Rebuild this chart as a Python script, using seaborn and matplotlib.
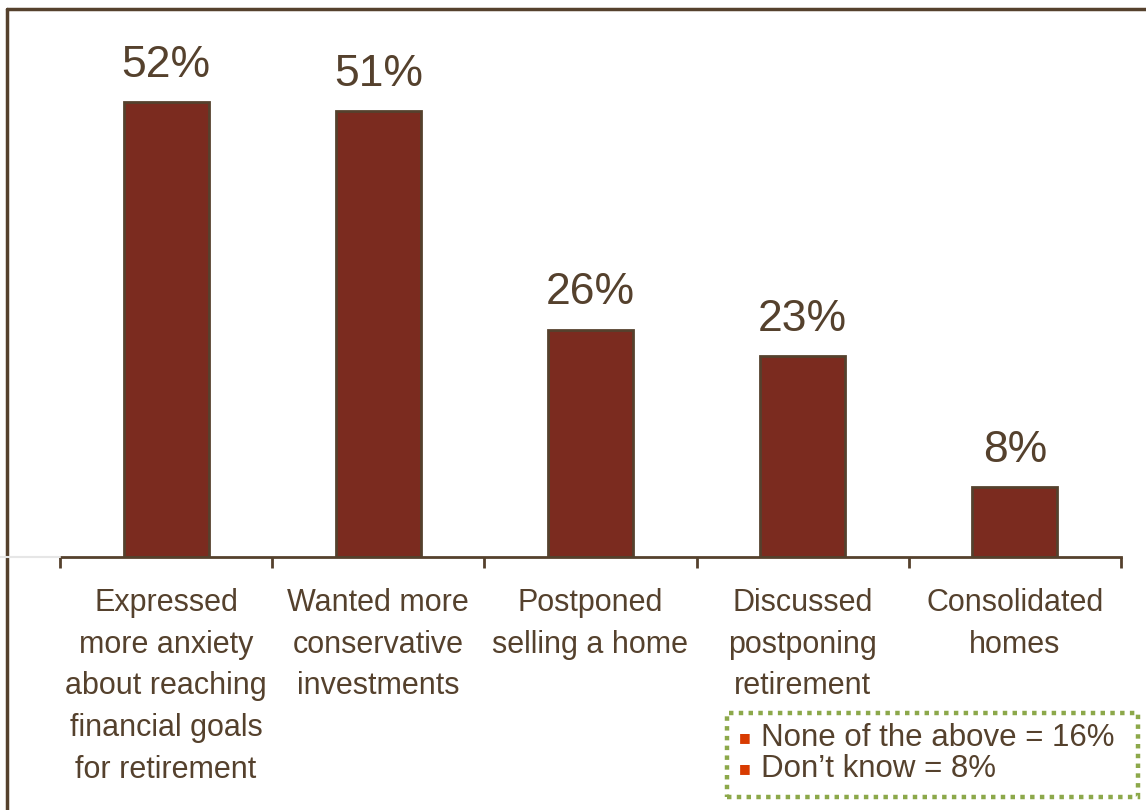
import matplotlib
matplotlib.use("Agg")
import matplotlib.pyplot as plt
from matplotlib.lines import Line2D
from matplotlib.patches import Rectangle
import seaborn as sns
import pandas as pd
import numpy as np

# Survey results
categories = [
    "Expressed\nmore anxiety\nabout reaching\nfinancial goals\nfor retirement",
    "Wanted more\nconservative\ninvestments",
    "Postponed\nselling a home",
    "Discussed\npostponing\nretirement",
    "Consolidated\nhomes",
]
values = [52, 51, 26, 23, 8]
value_labels = ["52%", "51%", "26%", "23%", "8%"]
note_lines = ["None of the above = 16%", "Don\u2019t know = 8%"]

BROWN = "#55412D"
BAR = "#7B2B1F"
GREEN = "#8CA84A"
BULLET = "#D83B01"

sns.set_theme(style="white")
plt.rcParams["font.family"] = ["Liberation Sans", "DejaVu Sans"]

df = pd.DataFrame({"category": categories, "value": values})

fig = plt.figure(figsize=(11.46, 8.10), dpi=100)
ax = fig.add_axes([60 / 1146, 253 / 810, (1121 - 60) / 1146, (557 - 32) / 810])

sns.barplot(data=df, x="category", y="value", width=0.4, color=BAR,
            saturation=1, edgecolor=BROWN, linewidth=2, ax=ax)

ax.set_ylim(0, 60)
ax.set_xlim(-0.5, len(categories) - 0.5)
ax.set_xlabel("")
ax.set_ylabel("")
ax.set_yticks([])

for i, (v, lab) in enumerate(zip(values, value_labels)):
    ax.text(i, v + 1.85, lab, ha="center", va="bottom", fontsize=32, color=BROWN)

# Category labels centred under each bar, tick marks at the boundaries
ax.set_xticks(range(len(categories)))
ax.set_xticklabels(categories, fontsize=22, color=BROWN, linespacing=1.52,
                   va="top")
ax.tick_params(axis="x", which="major", length=0, pad=22)
ax.set_xticks(np.arange(-0.5, len(categories)), minor=True)
ax.tick_params(axis="x", which="minor", length=8, width=2, color=BROWN,
               direction="out", bottom=True)

for s in ["top", "right", "left"]:
    ax.spines[s].set_visible(False)
ax.spines["bottom"].set_color(BROWN)
ax.spines["bottom"].set_linewidth(2)

# Outer frame on the top and left edges
fig.add_artist(Line2D([7 / 1146, 7 / 1146], [0, 1 - 9 / 810],
                      transform=fig.transFigure, color=BROWN, lw=2.5))
fig.add_artist(Line2D([7 / 1146, 1], [1 - 9 / 810, 1 - 9 / 810],
                      transform=fig.transFigure, color=BROWN, lw=2.5))
# Faint guide to the left of the axis
fig.add_artist(Line2D([0, 60 / 1146], [253 / 810, 253 / 810],
                      transform=fig.transFigure, color="#E6E6E6", lw=1.5))

# Note box
fig.add_artist(Rectangle((727 / 1146, 1 - 797 / 810), (1138 - 727) / 1146,
                         (797 - 713) / 810, transform=fig.transFigure,
                         fill=False, edgecolor=GREEN, lw=3.2,
                         linestyle=(0, (1, 1.2))))
for k, line in enumerate(note_lines):
    y = 1 - (738 + k * 31) / 810
    fig.text(745 / 1146, y, "\u25a0", color=BULLET, fontsize=9, va="center",
             ha="center", family="DejaVu Sans")
    fig.text(761 / 1146, y, line, color=BROWN, fontsize=22.5, va="center")

fig.savefig("out.png", dpi=100, facecolor="white")
